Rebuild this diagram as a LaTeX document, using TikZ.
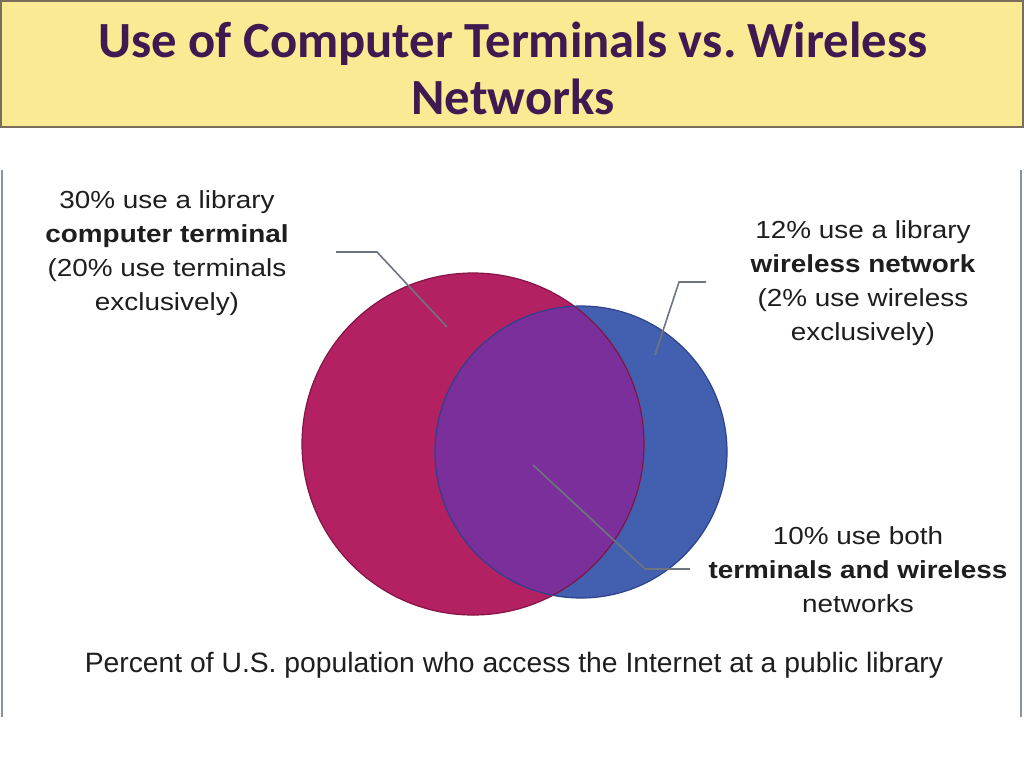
\documentclass[tikz,border=0pt]{standalone}
\usepackage{fontspec}
\setmainfont{Liberation Sans}
\newfontfamily\titlefont{Carlito}
\usepackage{graphicx}
\definecolor{titlefill}{RGB}{251,234,148}
\definecolor{titleborder}{RGB}{120,110,90}
\definecolor{titletext}{RGB}{62,26,80}
\definecolor{magentaC}{RGB}{180,33,98}
\definecolor{magentaD}{RGB}{130,20,70}
\definecolor{blueC}{RGB}{67,96,176}
\definecolor{blueD}{RGB}{45,65,140}
\definecolor{purpleC}{RGB}{123,47,155}
\definecolor{leader}{RGB}{110,116,128}
\definecolor{framegray}{RGB}{138,146,160}
\definecolor{textgray}{RGB}{30,30,30}
\newcommand\lbltext[1]{\scalebox{1.13}[1]{\begin{tabular}{@{}c@{}}#1\end{tabular}}}
\frenchspacing
\begin{document}
\begin{tikzpicture}[x=0.75pt,y=-0.75pt,
  lbl/.style={inner sep=0pt, text=textgray, font=\fontsize{18.5}{25.5}\selectfont},
  leaderline/.style={draw=leader, line width=1.2pt},
  outline/.style={line width=0.9pt}]
\useasboundingbox (0,0) rectangle (1024,768);
\fill[white] (0,0) rectangle (1024,768);
% title box
\draw[fill=titlefill, draw=titleborder, line width=1.2pt] (1,1) rectangle (1023,127);
\node[align=center, text=titletext, font=\titlefont\bfseries\fontsize{38}{42.75}\selectfont] (title) at (513,68) {Use of Computer Terminals vs. Wireless\\Networks};
% frame lines
\draw[framegray, line width=1.5pt] (2,170) -- (2,717);
\draw[framegray, line width=1.5pt] (1021,170) -- (1021,717);
% circles
\fill[magentaC] (473,444) circle[radius=171];
\fill[blueC] (581,452) circle[radius=146];
\begin{scope}
  \clip (473,444) circle[radius=171];
  \fill[purpleC] (581,452) circle[radius=146];
\end{scope}
\draw[magentaD, outline] (473,444) circle[radius=171];
\draw[blueD, outline] (581,452) circle[radius=146];
% labels
\node[lbl] (lblL) at (167,253) {\lbltext{30\% use a library\\\textbf{computer terminal}\\(20\% use terminals\\exclusively)}};
\node[lbl] (lblR) at (863,283) {\lbltext{12\% use a library\\\textbf{wireless network}\\(2\% use wireless\\exclusively)}};
\node[lbl] (lblB) at (858,572) {\lbltext{10\% use both\\\textbf{terminals and wireless}\\networks}};
\node[inner sep=0pt, text=textgray, font=\fontsize{21}{25}\selectfont] (caption) at (514,665) {\scalebox{1.01}[1]{Percent of U.S. population who access the Internet at a public library}};
% leader lines
\coordinate (lA) at (336,252);
\coordinate (lB) at (377,252);
\coordinate (lC) at (447,327);
\coordinate (rA) at (706,282);
\coordinate (rB) at (679,282);
\coordinate (rC) at (655,355);
\coordinate (bA) at (690,569);
\coordinate (bB) at (645,569);
\coordinate (bC) at (533,465);
\draw[leaderline] (lA) -- (lB) -- (lC);
\draw[leaderline] (rA) -- (rB) -- (rC);
\draw[leaderline] (bA) -- (bB) -- (bC);
\end{tikzpicture}
\end{document}
